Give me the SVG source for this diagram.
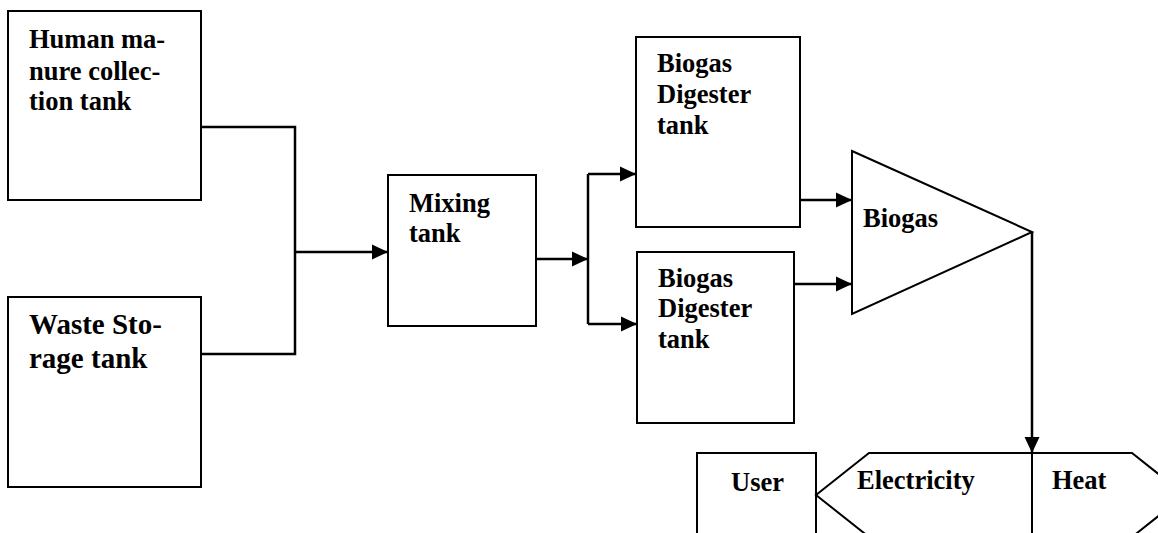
<svg xmlns="http://www.w3.org/2000/svg" width="1158" height="533" viewBox="0 0 1158 533">
  <style>
    .box { fill: #fff; stroke: #000; stroke-width: 2; }
    .wire { fill: none; stroke: #000; stroke-width: 2.5; }
    .lbl { font-family: "Liberation Serif", "Times New Roman", serif; font-weight: bold; font-size: 26.5px; fill: #000; }
    .big { font-size: 29px; }
  </style>
  <defs>
    <marker id="arrow" markerUnits="userSpaceOnUse" markerWidth="16" markerHeight="16" viewBox="0 0 16 16" refX="16" refY="8" orient="auto">
      <path d="M0,0.5 L16,8 L0,15.5 Z" fill="#000"/>
    </marker>
  </defs>

  <rect width="1158" height="533" fill="#fff"/>

  <!-- process flow lines -->
  <g id="connectors">
    <polyline class="wire" points="201,127 295,127 295,354 201,354"/>
    <line class="wire" x1="295" y1="252" x2="388" y2="252" marker-end="url(#arrow)"/>
    <line class="wire" x1="536" y1="259" x2="588" y2="259" marker-end="url(#arrow)"/>
    <line class="wire" x1="588" y1="174" x2="588" y2="324"/>
    <line class="wire" x1="588" y1="174" x2="636" y2="174" marker-end="url(#arrow)"/>
    <line class="wire" x1="588" y1="324" x2="637" y2="324" marker-end="url(#arrow)"/>
    <line class="wire" x1="800" y1="200" x2="852" y2="200" marker-end="url(#arrow)"/>
    <line class="wire" x1="794" y1="284" x2="852" y2="284" marker-end="url(#arrow)"/>
    <line class="wire" x1="1032" y1="232" x2="1032" y2="453" marker-end="url(#arrow)"/>
  </g>

  <g id="human-manure-tank">
    <rect class="box" x="8" y="11" width="193" height="189"/>
    <text class="lbl" x="29" y="48">Human ma-</text>
    <text class="lbl" x="29" y="80">nure collec-</text>
    <text class="lbl" x="29" y="110">tion tank</text>
  </g>

  <g id="waste-storage-tank">
    <rect class="box" x="8" y="297" width="193" height="190"/>
    <text class="lbl big" x="29" y="334">Waste Sto-</text>
    <text class="lbl big" x="29" y="368">rage tank</text>
  </g>

  <g id="mixing-tank">
    <rect class="box" x="388" y="175" width="148" height="151"/>
    <text class="lbl" x="409" y="212">Mixing</text>
    <text class="lbl" x="409" y="242">tank</text>
  </g>

  <g id="digester-1">
    <rect class="box" x="636" y="37" width="164" height="190"/>
    <text class="lbl" x="657" y="72">Biogas</text>
    <text class="lbl" x="657" y="103">Digester</text>
    <text class="lbl" x="657" y="134">tank</text>
  </g>

  <g id="digester-2">
    <rect class="box" x="637" y="252" width="157" height="171"/>
    <text class="lbl" x="658" y="287">Biogas</text>
    <text class="lbl" x="658" y="317">Digester</text>
    <text class="lbl" x="658" y="348">tank</text>
  </g>

  <g id="biogas">
    <polygon class="box" points="852,151 1032,232 852,314"/>
    <text class="lbl" x="863" y="227">Biogas</text>
  </g>

  <g id="user">
    <rect class="box" x="697" y="453" width="119" height="100"/>
    <text class="lbl" x="731" y="491">User</text>
  </g>

  <g id="energy-output">
    <polygon class="box" points="816,495 869,453 1132,453 1185,495 1132,537 869,537"/>
    <line class="box" x1="1032" y1="453" x2="1032" y2="540"/>
    <text class="lbl" x="857" y="489">Electricity</text>
    <text class="lbl" x="1052" y="489">Heat</text>
  </g>
</svg>
